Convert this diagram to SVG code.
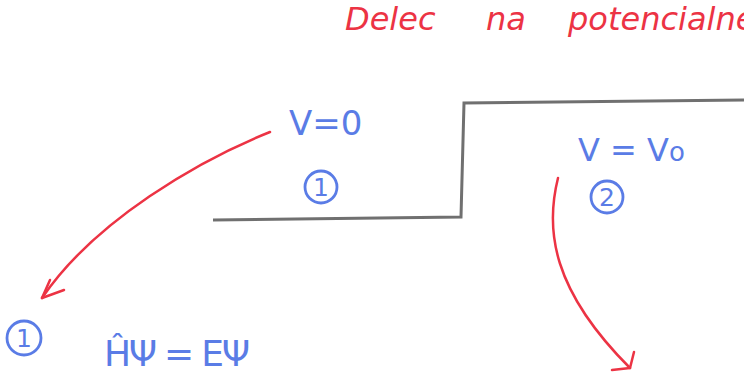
<svg xmlns="http://www.w3.org/2000/svg" width="744" height="372" viewBox="0 0 744 372">
<style>
.red{fill:#ec3344;font-family:"DejaVu Sans",sans-serif;font-style:italic}
.blue{fill:#5a7ce6;font-family:"DejaVu Sans",sans-serif}
.circ{fill:none;stroke:#5a7ce6;stroke-width:2.8}
.wall{fill:none;stroke:#707070;stroke-width:3}
.conn{fill:none;stroke:#ec3344;stroke-width:2.5;stroke-linecap:round}
</style>
<rect width="744" height="372" fill="#ffffff"/>
<g id="title">
<text class="red" x="345" y="30" font-size="32">Delec</text>
<text class="red" x="486" y="30" font-size="32">na</text>
<text class="red" x="568" y="30" font-size="32">potencialne</text>
</g>
<g id="potential">
<path class="wall" d="M213,220 L461,217 L464,103 L744,100"/>
</g>
<g id="region1">
<text class="blue" x="289" y="135" font-size="34">V=0</text>
<circle class="circ" cx="321" cy="187" r="16"/>
<text class="blue" x="321" y="196" font-size="25" text-anchor="middle">1</text>
</g>
<g id="region2">
<text class="blue" x="578" y="161" font-size="32">V = V<tspan font-size="26">o</tspan></text>
<circle class="circ" cx="607" cy="197" r="16"/>
<text class="blue" x="607" y="206" font-size="25" text-anchor="middle">2</text>
</g>
<g id="equation1">
<circle class="circ" cx="24" cy="338" r="17"/>
<text class="blue" x="24" y="347" font-size="25" text-anchor="middle">1</text>
<text class="blue" x="104" y="366" font-size="36" textLength="146">ĤΨ = EΨ</text>
</g>
<g id="connectors">
<path class="conn" d="M270,132 C200,160 95,220 42,298"/>
<path class="conn" d="M42,298 L64,290 M42,298 L50,280"/>
<path class="conn" d="M558,178 C545,230 552,290 630,368"/>
<path class="conn" d="M630,368 L634,352 M630,368 L612,370"/>
</g>
</svg>
